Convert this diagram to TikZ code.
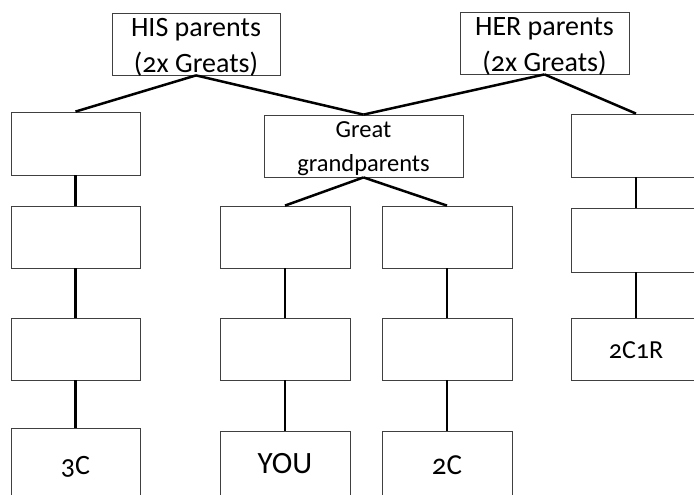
\documentclass[tikz,border=0pt]{standalone}
\usepackage{fontspec}
\setmainfont{Carlito}[Numbers=OldStyle]
\newcommand\boxtwo[3]{\raisebox{#1}[0pt][0pt]{\begin{tabular}[t]{@{}c@{}}#2\\#3\end{tabular}}}
\newcommand\boxone[2]{\raisebox{#1}[0pt][0pt]{#2}}
\begin{document}
\begin{tikzpicture}[x=1pt,y=-1pt,
  box/.style={draw=black!75,line width=0.8pt,fill=white,inner sep=0pt},
  big/.style={font=\fontsize{28}{36}\selectfont},
  mid/.style={font=\fontsize{24.5}{35}\selectfont},
  lab/.style={font=\fontsize{27}{32}\selectfont},
  link/.style={line width=2.5pt,black}]
\useasboundingbox (0,0) rectangle (694,495);
\clip (0,0) rectangle (694,495);
\node[box,big,minimum width=168pt,minimum height=62pt] (his) at (196,44) {\boxtwo{7.5pt}{HIS parents}{(2x Greats)}};
\node[box,big,minimum width=169pt,minimum height=62pt] (her) at (544.5,43) {\boxtwo{7.7pt}{HER parents}{(2x Greats)}};
\node[box,mid,minimum width=199pt,minimum height=62pt] (gg) at (363.5,146) {\boxtwo{9pt}{Great}{grandparents}};
\node[box,minimum width=129pt,minimum height=63pt] (l1) at (75.5,143.5) {};
\node[box,minimum width=129pt,minimum height=62pt] (l2) at (75.5,237) {};
\node[box,minimum width=129pt,minimum height=62pt] (l3) at (75.5,349) {};
\node[box,lab,font=\fontsize{28}{32}\selectfont,minimum width=129pt,minimum height=76pt] (l4) at (75.5,466) {\boxone{-8pt}{3C}};
\node[box,minimum width=130pt,minimum height=62pt] (m1) at (285,237) {};
\node[box,minimum width=130pt,minimum height=62pt] (m2) at (285,349) {};
\node[box,lab,font=\fontsize{31}{36}\selectfont,minimum width=130pt,minimum height=72pt] (m3) at (285,467) {\boxone{-6pt}{YOU}};
\node[box,minimum width=130pt,minimum height=62pt] (n1) at (447,237) {};
\node[box,minimum width=130pt,minimum height=62pt] (n2) at (447,349) {};
\node[box,lab,font=\fontsize{29}{32}\selectfont,minimum width=130pt,minimum height=72pt] (n3) at (447,467) {\boxone{-7pt}{2C}};
\node[box,minimum width=130pt,minimum height=63pt] (r1) at (636,145.5) {};
\node[box,minimum width=130pt,minimum height=64pt] (r2) at (636,240) {};
\node[box,lab,font=\fontsize{26}{32}\selectfont,minimum width=130pt,minimum height=62pt] (r3) at (636,349) {\boxone{-9pt}{2C1R}};
\draw[link] (his.south) -- (l1.north);
\draw[link] (his.south) -- (gg.north);
\draw[link] (her.south) -- (gg.north);
\draw[link] (her.south) -- (r1.north);
\draw[link] (gg.south) -- (m1.north);
\draw[link] (gg.south) -- (n1.north);
\draw[link] (l1) -- (l2) (l2) -- (l3) (l3) -- (l4);
\draw[link] (m1) -- (m2) (m2) -- (m3);
\draw[link] (n1) -- (n2) (n2) -- (n3);
\draw[link] (r1) -- (r2) (r2) -- (r3);
\end{tikzpicture}
\end{document}
